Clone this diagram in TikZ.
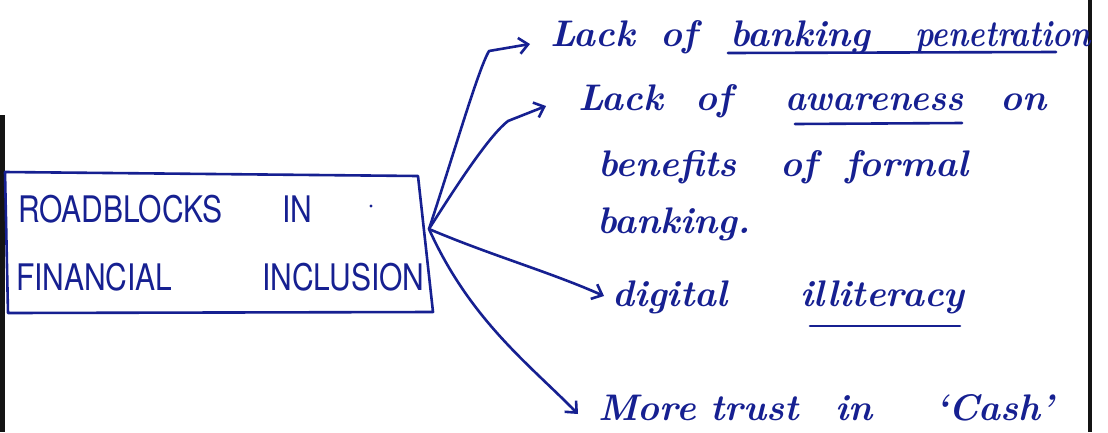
\documentclass[tikz,border=0pt]{standalone}
\usepackage{fontspec}
\setsansfont{TeX Gyre Heros}
\usetikzlibrary{arrows.meta,calc}
\definecolor{ink}{RGB}{22,32,145}
\definecolor{margin}{RGB}{20,20,20}
% a word set in a box of given width, so the next word starts at a fixed place
\newcommand{\wordbox}[2]{\makebox[#1pt][l]{#2}}
\begin{document}
\begin{tikzpicture}[x=1pt,y=-1pt,
  inkline/.style={draw=ink,line width=2.6pt,line cap=round,line join=round},
  arrowline/.style={inkline,-{Straight Barb[length=9pt,width=16pt,line width=2.6pt]}},
  hand/.style={inner sep=0pt,anchor=base west,text=ink,
    font=\fontsize{37}{44}\selectfont\bfseries\itshape},
  caps/.style={inner sep=0pt,anchor=base west,text=ink,
    font=\fontsize{30}{36}\selectfont\sffamily},
]
\useasboundingbox (0,0) rectangle (1108,432);
\fill[white] (0,0) rectangle (1108,432);

% page margins
\draw[margin,line width=5pt] (2,115) -- (2,432);
\draw[margin,line width=4pt] (1090,0) -- (1090,432);

% central box
\node[minimum width=427pt,minimum height=139pt,inner sep=0pt] (box) at (219,243) {};
\draw[inkline] (5,172) -- (418,176) -- (433,312) -- (8,313) -- cycle;
\node[caps] (c1) at (18,222) {\scalebox{1}[1.22]{\wordbox{264}{ROADBLOCKS}IN}};
\node[caps] (c2) at (16,290) {\scalebox{1}[1.22]{\wordbox{246}{FINANCIAL}INCLUSION}};
\fill[ink] (371,206) circle (1.6pt);
\coordinate (hub) at (429,229);

% branches
\node[hand] (l1) at (550,46) {\wordbox{110}{Lack}\wordbox{70}{of}\wordbox{185}{banking}\scalebox{0.84}[1]{penetration}};
\node[hand] (l2) at (578,110) {\wordbox{117}{Lack}\wordbox{90}{of}\wordbox{215}{\scalebox{0.95}[1]{awareness}}on};
\node[hand] (l3) at (598,176) {\wordbox{182}{benefits}\wordbox{65}{of}formal};
\node[hand] (l4) at (597,233) {banking.};
\node[hand] (l5) at (612,306) {\wordbox{188}{digital}illiteracy};
\node[hand] (l6) at (598,420) {\wordbox{112}{More}\wordbox{125}{trust}\wordbox{100}{in}`Cash'};

% underlines
\draw[inkline] (728,53) -- (1056,52);
\draw[inkline] (795,124) -- (962,123);
\draw[inkline] (810,326) -- (960,326);

% connectors
\coordinate (k1) at (489,51);
\coordinate (k2) at (508,121);
\draw[arrowline] (hub) .. controls (455,150) and (478,70) .. (k1) -- ($(l1.base west)+(-20,-2)$);
\draw[arrowline] (hub) .. controls (460,180) and (490,135) .. (k2) -- ($(l2.base west)+(-32,-4)$);
\draw[arrowline] (hub) .. controls (490,255) and (550,272) .. ($(l5.base west)+(-8,-10)$);
\draw[arrowline] (hub) .. controls (470,320) and (530,365) .. ($(l6.base west)+(-20,-6)$);
\end{tikzpicture}
\end{document}
